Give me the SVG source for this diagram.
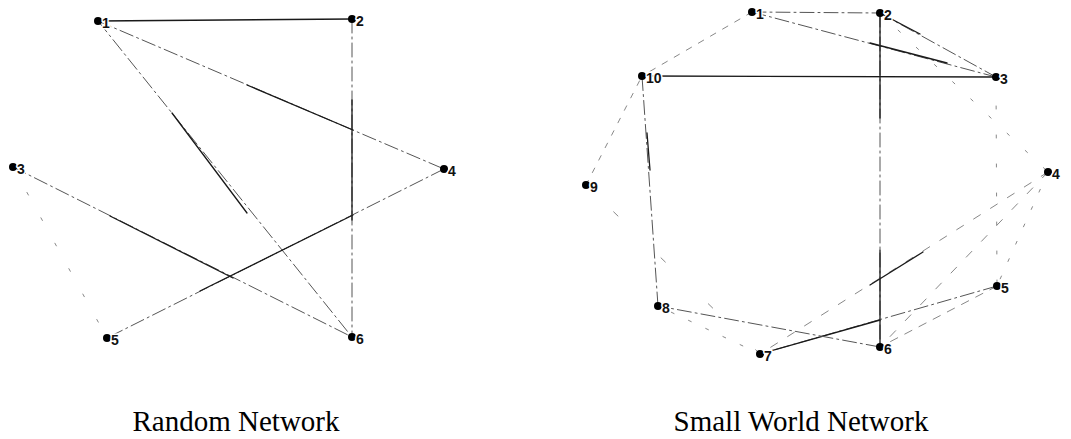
<svg xmlns="http://www.w3.org/2000/svg" width="1071" height="439" viewBox="0 0 1071 439">
<style>
.bg{fill:#fff}
.e line{fill:none;stroke-linecap:round}
.s{stroke:#1a1a1a;stroke-width:1.3}
.d{stroke:#555;stroke-width:1;stroke-dasharray:14 4 2 4}
.f{stroke:#888;stroke-width:1;stroke-dasharray:3 16}
.dot{fill:#000}
.lbl{font-family:"Liberation Sans",Arial,sans-serif;font-size:14px;font-weight:bold;fill:#111;stroke:#fff;stroke-width:3;paint-order:stroke;stroke-linejoin:round}
.cap{font-family:"Liberation Serif","Times New Roman",serif;font-size:29px;fill:#000;text-anchor:middle}
</style>
<rect class="bg" width="1071" height="439"/>
<g id="connectors" class="e">
 <g id="r-1-2"><line class="s" x1="98" y1="21" x2="352" y2="19"/></g>
 <g id="r-1-4"><line class="d" x1="98" y1="21" x2="444" y2="169"/><line class="s" x1="247" y1="85" x2="353" y2="130"/></g>
 <g id="r-1-6"><line class="d" x1="98" y1="21" x2="352" y2="337"/><line class="s" x1="172" y1="113" x2="247" y2="213"/></g>
 <g id="r-2-6"><line class="d" x1="352" y1="19" x2="352" y2="337"/><line class="s" x1="352" y1="100" x2="352" y2="220"/></g>
 <g id="r-3-6"><line class="d" x1="13" y1="167" x2="352" y2="337"/><line class="s" x1="110" y1="216" x2="233" y2="278"/></g>
 <g id="r-3-5"><line class="f" x1="13" y1="167" x2="107" y2="338" style="stroke-dasharray:3 26"/></g>
 <g id="r-4-5"><line class="d" x1="444" y1="169" x2="107" y2="338"/><line class="s" x1="200" y1="291" x2="353" y2="215"/></g>

 <g id="s-1-2"><line class="d" x1="752" y1="12" x2="880" y2="13"/></g>
 <g id="s-1-3"><line class="d" x1="752" y1="12" x2="996" y2="77"/><line class="s" x1="870" y1="43" x2="947" y2="63"/></g>
 <g id="s-1-10"><line class="f" x1="752" y1="12" x2="642" y2="76" style="stroke-dasharray:6 8"/></g>
 <g id="s-2-3"><line class="d" x1="880" y1="13" x2="996" y2="77"/><line class="s" x1="880" y1="13" x2="920" y2="34"/></g>
 <g id="s-2-4"><line class="f" x1="880" y1="13" x2="1048" y2="172" style="stroke-dasharray:3 22"/></g>
 <g id="s-2-6"><line class="d" x1="880" y1="13" x2="880" y2="347"/><line class="s" x1="880" y1="13" x2="880" y2="118"/><line class="s" x1="880" y1="250" x2="880" y2="347"/></g>
 <g id="s-10-3"><line class="s" x1="642" y1="76" x2="996" y2="77"/></g>
 <g id="s-3-5"><line class="f" x1="996" y1="77" x2="997" y2="286" style="stroke-dasharray:3 26"/></g>
 <g id="s-4-5"><line class="f" x1="1048" y1="172" x2="997" y2="286"/></g>
 <g id="s-4-6"><line class="f" x1="1048" y1="172" x2="880" y2="347" style="stroke-dasharray:8 14"/></g>
 <g id="s-4-7"><line class="f" x1="1048" y1="172" x2="760" y2="354" style="stroke-dasharray:8 12"/><line class="s" x1="870" y1="285" x2="923" y2="252"/></g>
 <g id="s-5-6"><line class="f" x1="997" y1="286" x2="880" y2="347" style="stroke-dasharray:8 8"/></g>
 <g id="s-5-7"><line class="d" x1="997" y1="286" x2="760" y2="354"/><line class="s" x1="760" y1="354" x2="880" y2="320"/></g>
 <g id="s-6-8"><line class="d" x1="880" y1="347" x2="658" y2="306"/></g>
 <g id="s-7-8"><line class="f" x1="760" y1="354" x2="658" y2="306"/></g>
 <g id="s-7-9"><line class="f" x1="760" y1="354" x2="586" y2="185" style="stroke-dasharray:6 60"/></g>
 <g id="s-8-10"><line class="d" x1="658" y1="306" x2="642" y2="76"/><line class="s" x1="647" y1="133" x2="650" y2="170"/></g>
 <g id="s-9-10"><line class="f" x1="586" y1="185" x2="642" y2="76" style="stroke-dasharray:5 9"/></g>
</g>

<g id="rn1"><circle class="dot" cx="98" cy="21" r="4"/><text class="lbl" x="102" y="28">1</text></g>
<g id="rn2"><circle class="dot" cx="352" cy="19" r="4"/><text class="lbl" x="356" y="26">2</text></g>
<g id="rn3"><circle class="dot" cx="13" cy="167" r="4"/><text class="lbl" x="17" y="174">3</text></g>
<g id="rn4"><circle class="dot" cx="444" cy="169" r="4"/><text class="lbl" x="448" y="176">4</text></g>
<g id="rn5"><circle class="dot" cx="107" cy="338" r="4"/><text class="lbl" x="111" y="345">5</text></g>
<g id="rn6"><circle class="dot" cx="352" cy="337" r="4"/><text class="lbl" x="356" y="344">6</text></g>

<g id="sn1"><circle class="dot" cx="752" cy="12" r="4"/><text class="lbl" x="756" y="19">1</text></g>
<g id="sn2"><circle class="dot" cx="880" cy="13" r="4"/><text class="lbl" x="884" y="20">2</text></g>
<g id="sn3"><circle class="dot" cx="996" cy="77" r="4"/><text class="lbl" x="1000" y="84">3</text></g>
<g id="sn4"><circle class="dot" cx="1048" cy="172" r="4"/><text class="lbl" x="1052" y="179">4</text></g>
<g id="sn5"><circle class="dot" cx="997" cy="286" r="4"/><text class="lbl" x="1001" y="293">5</text></g>
<g id="sn6"><circle class="dot" cx="880" cy="347" r="4"/><text class="lbl" x="884" y="354">6</text></g>
<g id="sn7"><circle class="dot" cx="760" cy="354" r="4"/><text class="lbl" x="764" y="361">7</text></g>
<g id="sn8"><circle class="dot" cx="658" cy="306" r="4"/><text class="lbl" x="662" y="313">8</text></g>
<g id="sn9"><circle class="dot" cx="586" cy="185" r="4"/><text class="lbl" x="590" y="192">9</text></g>
<g id="sn10"><circle class="dot" cx="642" cy="76" r="4"/><text class="lbl" x="646" y="83">10</text></g>

<text class="cap" x="236" y="431">Random Network</text>
<text class="cap" x="801" y="431">Small World Network</text>
</svg>
